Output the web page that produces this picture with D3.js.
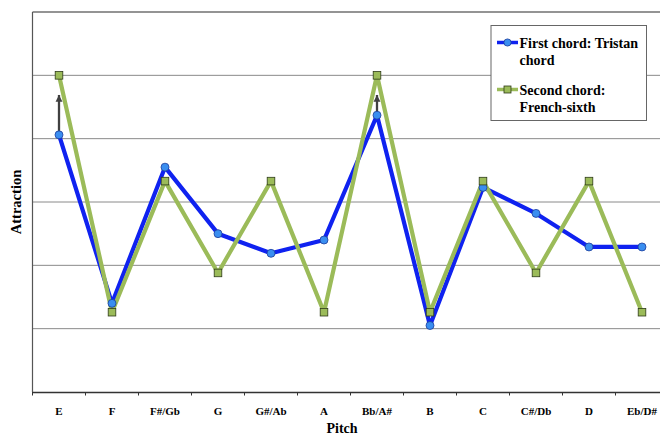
<!DOCTYPE html>
<html>
<head>
<meta charset="utf-8">
<script src="https://cdn.jsdelivr.net/npm/d3@7"></script>
<style>
  html, body { margin: 0; padding: 0; background: #fff; }
  svg { display: block; }
</style>
</head>
<body>
<svg id="chart" width="660" height="436"></svg>
<script>
const categories = ["E", "F", "F#/Gb", "G", "G#/Ab", "A", "Bb/A#", "B", "C", "C#/Db", "D", "Eb/D#"];
const firstChord = [4.06, 1.40, 3.55, 2.50, 2.19, 2.40, 4.37, 1.05, 3.23, 2.82, 2.29, 2.29];
const secondChord = [5.00, 1.26, 3.33, 1.88, 3.33, 1.26, 5.00, 1.26, 3.33, 1.88, 3.33, 1.26];
const arrowCategories = ["E", "Bb/A#"];
const arrowTargets = [4.69, 4.69];
const seriesNames = ["First chord: Tristan chord", "Second chord: French-sixth"];
const yGridValues = [1, 2, 3, 4, 5];
const yMax = 6;

(function () {
const FONT = "Liberation Serif";
const svg = d3.select("#chart");
const left = 32.5, plotTop = 12, plotW = 636, plotH = 380;

const x = d3.scaleBand().domain(categories).range([left, left + plotW]).padding(0);
const y = d3.scaleLinear().domain([0, yMax]).range([plotTop + plotH, plotTop]);
const cx = c => x(c) + x.bandwidth() / 2;

// gridlines
svg.append("g").selectAll("line").data(yGridValues).join("line")
  .attr("x1", left).attr("x2", left + plotW)
  .attr("y1", d => y(d)).attr("y2", d => y(d))
  .attr("stroke", "#8a8a8a").attr("stroke-width", 1);
// top border
svg.append("line").attr("x1", left).attr("x2", left + plotW)
  .attr("y1", y(yMax)).attr("y2", y(yMax)).attr("stroke", "#2a2a2a").attr("stroke-width", 1.2);
// left axis line
svg.append("line").attr("x1", left).attr("x2", left)
  .attr("y1", y(yMax)).attr("y2", y(0)).attr("stroke", "#555").attr("stroke-width", 1.2);

// x axis
const xAxis = d3.axisBottom(x).tickSize(0).tickPadding(0);
const gx = svg.append("g").attr("transform", `translate(0,${y(0)})`).call(xAxis)
  .attr("font-family", FONT).attr("font-size", 11);
gx.select(".domain").attr("stroke", "#333").attr("stroke-width", 1.3);
gx.selectAll("text").attr("font-size", 11).attr("font-family", FONT)
  .attr("font-weight", "bold").attr("fill", "#000").attr("dy", null).attr("y", 23);
// boundary ticks
const bounds = categories.map(c => x(c)).concat([left + plotW]);
gx.append("g").selectAll("line").data(bounds).join("line")
  .attr("x1", d => d).attr("x2", d => d).attr("y1", 0).attr("y2", 3.5)
  .attr("stroke", "#333").attr("stroke-width", 1);

// axis titles
svg.append("text").attr("x", 342).attr("y", 433).attr("text-anchor", "middle")
  .attr("font-family", FONT).attr("font-weight", "bold")
  .attr("font-size", 14).text("Pitch");
svg.append("text").attr("transform", `translate(21,${(y(0) + y(yMax)) / 2}) rotate(-90)`)
  .attr("font-family", FONT).attr("font-weight", "bold")
  .attr("text-anchor", "middle").attr("font-size", 14.5).text("Attraction");

const line = d3.line().x((d, i) => cx(categories[i])).y(d => y(d));
const blue = "#0f22f0", green = "#9bbb59";

// arrow head
const defs = svg.append("defs");
defs.append("marker").attr("id", "ah").attr("viewBox", "0 0 10 10")
  .attr("refX", 10).attr("refY", 5).attr("markerWidth", 3).attr("markerHeight", 3.2)
  .attr("markerUnits", "strokeWidth").attr("orient", "auto")
  .append("path").attr("d", "M0,0 L10,5 L0,10 z").attr("fill", "#404040");

svg.append("path").datum(firstChord).attr("d", line)
  .attr("fill", "none").attr("stroke", blue).attr("stroke-width", 4.2).attr("stroke-linejoin", "round");
svg.append("path").datum(secondChord).attr("d", line)
  .attr("fill", "none").attr("stroke", green).attr("stroke-width", 4.2).attr("stroke-linejoin", "round");

svg.append("g").selectAll("line").data(arrowCategories).join("line")
  .attr("x1", c => cx(c)).attr("x2", c => cx(c))
  .attr("y1", c => y(firstChord[categories.indexOf(c)]) - 3)
  .attr("y2", (c, i) => y(arrowTargets[i]))
  .attr("stroke", "#404040").attr("stroke-width", 2.3).attr("marker-end", "url(#ah)");

svg.append("g").selectAll("circle").data(firstChord).join("circle")
  .attr("cx", (d, i) => cx(categories[i])).attr("cy", d => y(d)).attr("r", 4)
  .attr("fill", "#3a8ef0").attr("stroke", "#1c3c9a").attr("stroke-width", 0.8);
svg.append("g").selectAll("rect").data(secondChord).join("rect")
  .attr("x", (d, i) => cx(categories[i]) - 3.8).attr("y", d => y(d) - 3.8)
  .attr("width", 7.6).attr("height", 7.6)
  .attr("fill", green).attr("stroke", "#2e3b18").attr("stroke-width", 0.8);

// legend
const lg = svg.append("g");
lg.append("rect").attr("x", 491).attr("y", 25.5).attr("width", 155.5).attr("height", 95)
  .attr("fill", "#fff").attr("stroke", "#666").attr("stroke-width", 1);
const legendRows = [
  { color: blue, y: 42.5, type: "circle", lines: ["First chord: Tristan", "chord"] },
  { color: green, y: 89.5, type: "rect", lines: ["Second chord:", "French-sixth"] }
];
legendRows.forEach(r => {
  lg.append("line").attr("x1", 497).attr("x2", 518).attr("y1", r.y).attr("y2", r.y)
    .attr("stroke", r.color).attr("stroke-width", 3.5);
  if (r.type === "circle") {
    lg.append("circle").attr("cx", 507.5).attr("cy", r.y).attr("r", 3.6)
      .attr("fill", "#3a8ef0").attr("stroke", "#1c3c9a").attr("stroke-width", 0.8);
  } else {
    lg.append("rect").attr("x", 504).attr("y", r.y - 3.5).attr("width", 7).attr("height", 7)
      .attr("fill", green).attr("stroke", "#2e3b18").attr("stroke-width", 0.8);
  }
  const t = lg.append("text").attr("x", 519.5).attr("y", r.y + 5).attr("font-size", 14)
    .attr("font-family", FONT).attr("font-weight", "bold").attr("fill", "#000");
  r.lines.forEach((s, k) => t.append("tspan").attr("x", 519.5).attr("dy", k === 0 ? 0 : 17).text(s));
});
})();
</script>
</body>
</html>
